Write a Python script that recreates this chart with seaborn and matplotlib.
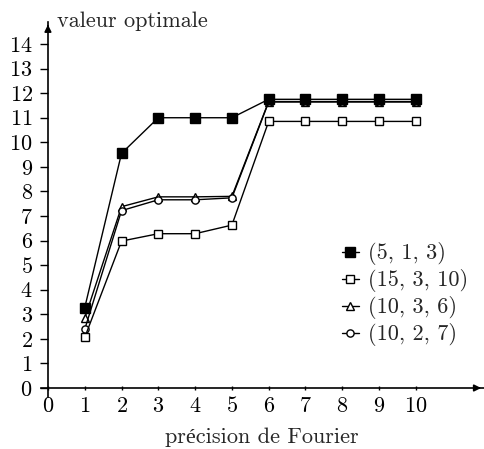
import matplotlib
matplotlib.use("Agg")
import matplotlib.pyplot as plt
import seaborn as sns
import pandas as pd

sns.set_style("ticks")
plt.rcParams['font.family'] = ['cmr10', 'Liberation Serif']
plt.rcParams['axes.formatter.use_mathtext'] = True
plt.rcParams['font.size'] = 16

# data
precision = [1, 2, 3, 4, 5, 6, 7, 8, 9, 10]
s_5_1_3 = [3.27, 9.55, 11.0, 11.0, 11.0, 11.75, 11.75, 11.75, 11.75, 11.75]
s_15_3_10 = [2.06, 5.98, 6.28, 6.28, 6.63, 10.85, 10.85, 10.85, 10.85, 10.85]
s_10_3_6 = [2.84, 7.38, 7.78, 7.78, 7.80, 11.66, 11.66, 11.66, 11.66, 11.66]
s_10_2_7 = [2.39, 7.22, 7.66, 7.66, 7.74, 11.64, 11.64, 11.64, 11.64, 11.64]
labels = ["(5, 1, 3)", "(15, 3, 10)", "(10, 3, 6)", "(10, 2, 7)"]
yticks = list(range(0, 15))
xticks = list(range(0, 11))

fig = plt.figure(figsize=(4.85, 4.49), dpi=100)
ax = fig.add_axes([0.0837, 0.1167, 0.914, 0.8345])

series = [
    (s_5_1_3, labels[0], "s", "black", 7, 5),
    (s_15_3_10, labels[1], "s", "white", 6.3, 4),
    (s_10_3_6, labels[2], "^", "white", 5.2, 3),
    (s_10_2_7, labels[3], "o", "white", 5.2, 3),
]
for vals, lab, mk, fc, ms, z in series:
    df = pd.DataFrame({"x": precision, "y": vals})
    sns.lineplot(data=df, x="x", y="y", ax=ax, color="black", linewidth=1.0,
                 marker=mk, markersize=ms, markerfacecolor=fc,
                 markeredgecolor="black", markeredgewidth=1.0,
                 label=lab, zorder=z, clip_on=False)

ax.set_xlim(-0.2, 11.85)
ax.set_ylim(-0.35, 14.9)
ax.set_xticks(xticks)
ax.set_yticks(yticks)
ax.spines['left'].set_position(('data', 0))
ax.spines['bottom'].set_position(('data', 0))
ax.spines['top'].set_visible(False)
ax.spines['right'].set_visible(False)
for s in ['left', 'bottom']:
    ax.spines[s].set_linewidth(1.2)
    ax.spines[s].set_color("black")
ax.tick_params(axis='y', direction='out', length=6, width=1.0, pad=5, labelsize=16, colors="black")
ax.tick_params(axis='x', direction='inout', length=3.5, width=1.0, pad=4, labelsize=16, colors="black")

# arrow heads on the axes
ax.annotate("", xy=(1.0, 0), xycoords=('axes fraction', 'data'),
            xytext=(0.98, 0), textcoords=('axes fraction', 'data'),
            arrowprops=dict(arrowstyle="-|>", color="black", lw=1.2, mutation_scale=10))
ax.annotate("", xy=(0, 1.0), xycoords=('data', 'axes fraction'),
            xytext=(0, 0.98), textcoords=('data', 'axes fraction'),
            arrowprops=dict(arrowstyle="-|>", color="black", lw=1.2, mutation_scale=10))

ax.set_xlabel("précision de Fourier", fontsize=16)
ax.xaxis.set_label_coords(0.5, -0.124)
ax.xaxis.label.set_va("baseline")
ax.set_ylabel("")
ax.text(0.037, 0.9864, "valeur optimale", transform=ax.transAxes,
        ha="left", va="baseline", fontsize=16)

ax.legend(loc="center left", bbox_to_anchor=(0.68, 0.2725), frameon=False,
          borderpad=0, borderaxespad=0, handlelength=0.75, handletextpad=0.42,
          labelspacing=0.18, fontsize=16)

fig.savefig("out.png", dpi=100)
